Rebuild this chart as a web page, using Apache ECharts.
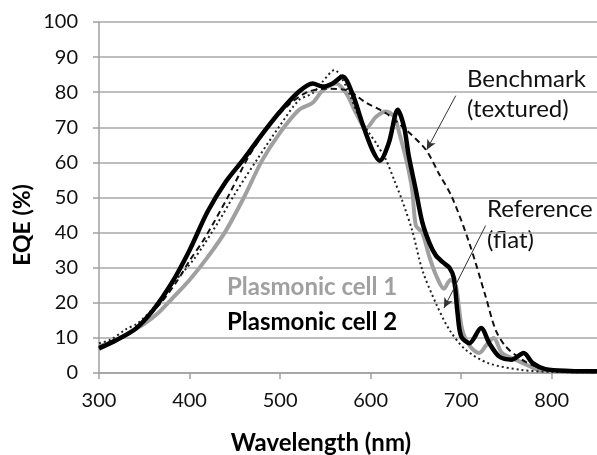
<!DOCTYPE html>
<html>
<head>
<meta charset="utf-8">
<script src="https://cdn.jsdelivr.net/npm/echarts@6/dist/echarts.min.js"></script>
<style>
  html, body { margin: 0; padding: 0; background: #fff; }
  #chart { width: 597px; height: 455px; }
</style>
</head>
<body>
<div id="chart"></div>
<script>
// EQE (%) vs wavelength (nm)
const cell1 = [[300,7.5],[320,9.5],[335,11.8],[350,14],[365,17],[380,21],[400,26.5],[420,33],[440,40.5],[460,50],[480,60.5],[500,68.5],[521,75],[536,77],[547,80.5],[562,82.5],[573,79.7],[584,74],[595,69.7],[606,73],[617,74.5],[626,73],[631,69],[640,60],[646,52],[650,42],[657,40],[665,33],[672,28],[681,24],[688,26.5],[694,25],[701,12.5],[710,7.5],[720,5.7],[728,8],[736,10],[745,5.7],[760,3.8],[775,2],[786,0.8],[800,0.4],[850,0.3]]
const cell2 = [[300,7],[320,9.5],[340,12.5],[360,18],[380,25.5],[400,35],[420,46],[440,54.5],[460,61],[480,68],[500,74.5],[520,80],[536,82.5],[547,81.6],[558,82.5],[569,84.5],[580,79.5],[591,71],[602,63.5],[610,60.5],[620,65.5],[630,75],[637,70],[642,62],[650,52],[657,43],[665,37],[672,33.5],[680,31.5],[687,30],[692,27],[696,17],[700,10.4],[709,8.5],[722,12.8],[731,8.5],[742,4.7],[756,3.8],[769,5.7],[779,2.8],[793,1.1],[820,0.6],[850,0.5]]
const reference = [[300,8.5],[313,9.5],[330,12.5],[343,14.2],[360,18.5],[380,25],[405,32.5],[431,42.7],[450,51],[475,61],[499,70.2],[521,77.8],[536,79.7],[547,83],[560,86.3],[573,81.6],[587,73],[598,68.5],[606,65.5],[617,60.7],[626,55],[635,49],[646,40.5],[657,29.4],[672,19.9],[687,12.3],[705,6.6],[730,2.8],[766,0.9],[800,0.3],[850,0.2]]
const benchmark = [[300,7.5],[330,11],[350,15],[370,20.5],[387,26.5],[400,32],[417,38.5],[442,50],[466,62],[490,71],[510,76.5],[530,80],[550,81],[573,80.6],[595,77],[617,74],[639,69.3],[661,63.6],[675,57],[690,50],[709,37],[727,21.8],[738,12.3],[749,7.6],[767,3.8],[782,1.9],[794,1],[820,0.4],[850,0.2]]

// arrow ends in data units [wavelength, EQE]
const benchArrow = [[694,79],[662,63.6]]
const refArrow = [[727,42],[681,18.5]]

const chart = echarts.init(document.getElementById('chart'))

const option = {
  backgroundColor: '#fff',
  animation: false,
  grid: { left: 99, top: 22, width: 500, height: 351 },
  xAxis: {
    type: 'value',
    min: 300,
    max: 850,
    interval: 100,
    axisLine: { show: true, lineStyle: { color: '#a0a0a0', width: 1.5 } },
    axisTick: { show: true, length: 6, lineStyle: { color: '#a0a0a0', width: 1.5 } },
    axisLabel: { color: '#111', fontFamily: 'Lato', fontSize: 20, margin: 18, showMaxLabel: false },
    splitLine: { show: false }
  },
  yAxis: {
    type: 'value',
    min: 0,
    max: 100,
    interval: 10,
    axisLine: { show: true, lineStyle: { color: '#a0a0a0', width: 1.5 } },
    axisTick: { show: true, length: 6, lineStyle: { color: '#a0a0a0', width: 1.5 } },
    axisLabel: { color: '#111', fontFamily: 'Lato', fontSize: 20, margin: 21 },
    splitLine: { show: true, lineStyle: { color: '#a8a8a8', width: 1.5 } }
  },
  series: [
    {
      name: 'Plasmonic cell 1',
      type: 'line',
      data: cell1,
      smooth: 0.3,
      showSymbol: false,
      lineStyle: { color: '#a0a0a0', width: 4 }
    },
    {
      name: 'Reference (flat)',
      type: 'line',
      data: reference,
      smooth: 0.3,
      showSymbol: false,
      lineStyle: { color: '#222', width: 2, type: [2, 3] },
      markLine: {
        silent: true,
        symbol: ['none', 'arrow'],
        symbolSize: [7, 10],
        label: { show: false },
        lineStyle: { color: '#333', width: 1, type: 'solid' },
        data: [
          [{ coord: benchArrow[0] }, { coord: benchArrow[1] }],
          [{ coord: refArrow[0] }, { coord: refArrow[1] }]
        ]
      }
    },
    {
      name: 'Benchmark (textured)',
      type: 'line',
      data: benchmark,
      smooth: 0.3,
      showSymbol: false,
      lineStyle: { color: '#111', width: 2, type: [6, 4] }
    },
    {
      name: 'Plasmonic cell 2',
      type: 'line',
      data: cell2,
      smooth: 0.3,
      showSymbol: false,
      lineStyle: { color: '#000', width: 4.5 }
    }
  ],
  graphic: [
    { type: 'text', x: 467, y: 79, style: { text: 'Benchmark', font: '24px Lato', fill: '#111', verticalAlign: 'middle' } },
    { type: 'text', x: 467, y: 109, style: { text: '(textured)', font: '24px Lato', fill: '#111', verticalAlign: 'middle' } },
    { type: 'text', x: 487, y: 209, style: { text: 'Reference', font: '24px Lato', fill: '#111', verticalAlign: 'middle' } },
    { type: 'text', x: 487, y: 240, style: { text: '(flat)', font: '24px Lato', fill: '#111', verticalAlign: 'middle' } },
    { type: 'text', x: 227, y: 287, style: { text: 'Plasmonic cell 1', font: 'bold 24px Lato', fill: '#a0a0a0', verticalAlign: 'middle' } },
    { type: 'text', x: 227, y: 322, style: { text: 'Plasmonic cell 2', font: 'bold 24px Lato', fill: '#000', verticalAlign: 'middle' } },
    { type: 'text', x: 23, y: 225, rotation: Math.PI / 2, style: { text: 'EQE (%)', font: 'bold 23px Lato', fill: '#000', align: 'center', verticalAlign: 'middle' } },
    { type: 'text', x: 321, y: 443, style: { text: 'Wavelength (nm)', font: 'bold 24px Lato', fill: '#000', align: 'center', verticalAlign: 'middle' } }
  ]
}

chart.setOption(option)
</script>
</body>
</html>
